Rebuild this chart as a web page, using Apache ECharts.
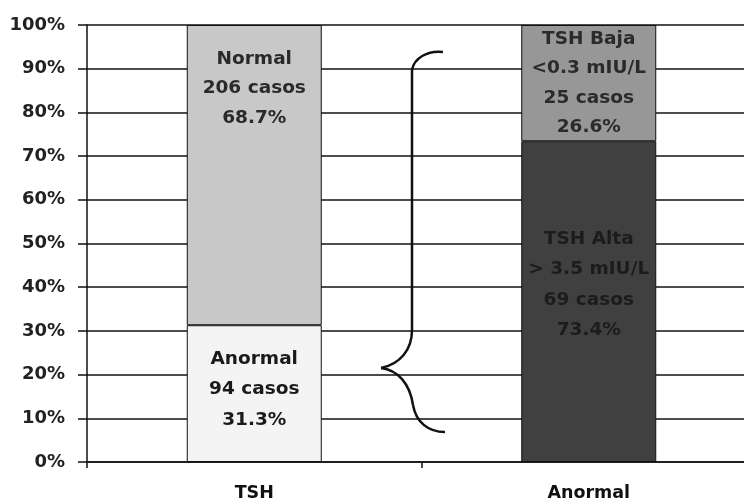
<!DOCTYPE html>
<html>
<head>
<meta charset="utf-8">
<script src="https://cdn.jsdelivr.net/npm/echarts@6/dist/echarts.min.js"></script>
<style>
  html, body { margin: 0; padding: 0; background: #fff; overflow: hidden; }
  #main { width: 756px; height: 502px; }
</style>
</head>
<body>
<div id="main"></div>
<script>
// data
var categories = ['TSH', 'Anormal'];
var lowerPct = [31.3, 73.4];
var upperPct = [68.7, 26.6];
var lowerNames = ['Anormal', 'TSH Alta\n> 3.5 mIU/L'];
var upperNames = ['Normal', 'TSH Baja\n<0.3 mIU/L'];
var lowerCases = [94, 69];
var upperCases = [206, 25];
var yTicks = [0, 10, 20, 30, 40, 50, 60, 70, 80, 90, 100];

var lowerColors = ['#f4f4f4', '#404040'];
var upperColors = ['#c8c8c8', '#979797'];
var fontFam = '"DejaVu Sans", Arial, sans-serif';

function labelText(names, cases, pct, i) {
    return names[i] + '\n' + cases[i] + ' casos\n' + pct[i].toFixed(1) + '%';
}

// brace pieces (decoration)
var braceStyle = { fill: null, stroke: '#111', lineWidth: 2.5 };
function curve(x1, y1, c1x, c1y, c2x, c2y, x2, y2) {
    return {
        type: 'bezierCurve',
        shape: { x1: x1, y1: y1, cpx1: c1x, cpy1: c1y, cpx2: c2x, cpy2: c2y, x2: x2, y2: y2 },
        style: braceStyle
    };
}

var myChart = echarts.init(document.getElementById('main'));
var option = {
    animation: false,
    backgroundColor: '#fff',
    grid: { left: 87, top: 25, right: 0, height: 437 },
    xAxis: {
        type: 'category',
        data: categories,
        axisLine: { lineStyle: { color: '#111', width: 1.5 } },
        axisTick: { show: true, length: 6, lineStyle: { color: '#111', width: 1.5 } },
        axisLabel: { color: '#111', fontWeight: 'bold', fontSize: 17.5, fontFamily: fontFam, margin: 22 }
    },
    yAxis: {
        type: 'value',
        min: yTicks[0],
        max: yTicks[yTicks.length - 1],
        interval: 10,
        axisLine: { show: true, lineStyle: { color: '#111', width: 1.5 } },
        axisTick: { show: true, length: 9, lineStyle: { color: '#111', width: 1.5 } },
        axisLabel: { formatter: '{value}%', color: '#222', fontWeight: 'bold', fontSize: 18, fontFamily: fontFam, margin: 22 },
        splitLine: { lineStyle: { color: '#111', width: 1.5 } }
    },
    series: [
        {
            name: 'inferior',
            type: 'bar',
            stack: 'total',
            barWidth: 135,
            data: lowerPct.map(function (v, i) {
                return {
                    value: v,
                    itemStyle: { color: lowerColors[i] },
                    label: {
                        offset: i === 0 ? [0, -4] : [0, -17],
                        color: i === 0 ? '#1a1a1a' : '#1c1c1c'
                    }
                };
            }),
            itemStyle: { borderColor: '#111', borderWidth: 1 },
            label: {
                show: true,
                position: 'inside',
                fontWeight: 'bold',
                fontSize: 18.5,
                lineHeight: 30.5,
                fontFamily: fontFam,
                formatter: function (p) { return labelText(lowerNames, lowerCases, lowerPct, p.dataIndex); }
            }
        },
        {
            name: 'superior',
            type: 'bar',
            stack: 'total',
            barWidth: 135,
            data: upperPct.map(function (v, i) {
                return {
                    value: v,
                    itemStyle: { color: upperColors[i] },
                    label: i === 0 ? { position: 'insideTop', distance: 19, color: '#2a2a2a' } : { position: 'inside', color: '#2a2a2a' }
                };
            }),
            itemStyle: { borderColor: '#111', borderWidth: 1 },
            label: {
                show: true,
                fontWeight: 'bold',
                fontSize: 18.5,
                lineHeight: 29.5,
                fontFamily: fontFam,
                formatter: function (p) { return labelText(upperNames, upperCases, upperPct, p.dataIndex); }
            }
        }
    ],
    graphic: [
        curve(443, 52, 428, 50, 414, 58, 412, 70),
        { type: 'line', shape: { x1: 412, y1: 70, x2: 412, y2: 330 }, style: braceStyle },
        curve(412, 330, 412, 350, 400, 364, 381, 368),
        curve(381, 368, 398, 370, 410, 384, 413, 405),
        curve(413, 405, 416, 422, 428, 432, 445, 432)
    ]
};
myChart.setOption(option);
</script>
</body>
</html>
